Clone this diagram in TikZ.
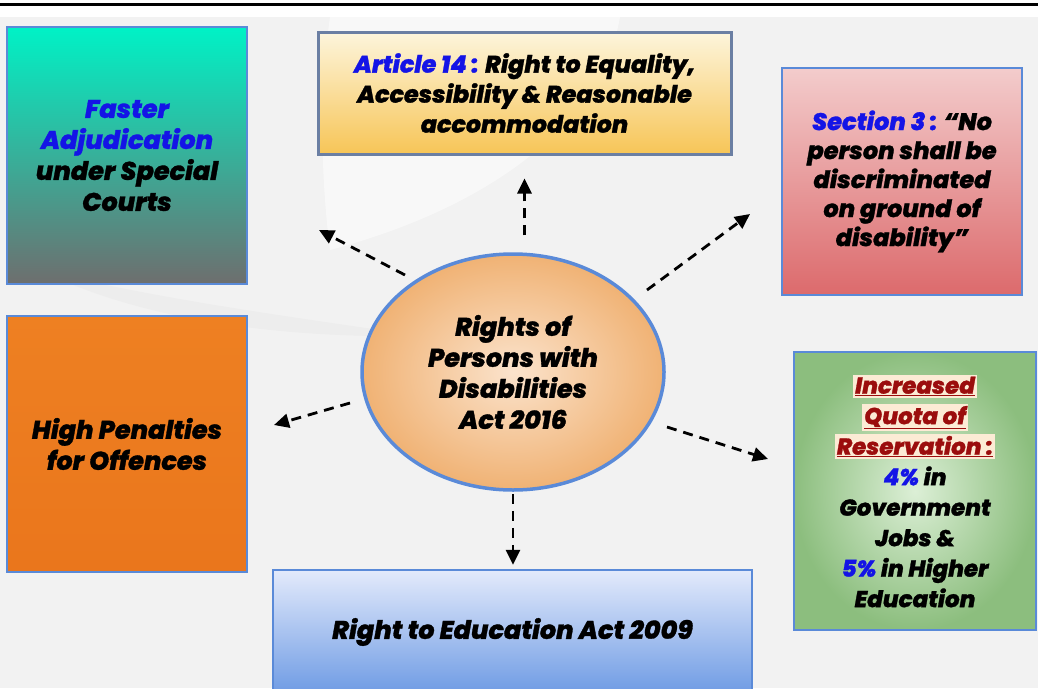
\documentclass[tikz,border=0pt]{standalone}
\usepackage{fontspec}
\setmainfont{Poppins}
\IfFontExistsTF{Poppins ExtraBold Italic}
  {\newfontfamily\pf{Poppins ExtraBold Italic}[FakeBold=1.2]}
  {\IfFontExistsTF{Poppins Bold Italic}
    {\newfontfamily\pf{Poppins Bold Italic}[FakeBold=1.5]}
    {\newfontfamily\pf{Poppins}[AutoFakeBold=2]}}
\usetikzlibrary{arrows.meta,shapes.geometric}
\definecolor{bg}{HTML}{F2F2F2}
\definecolor{bordblue}{HTML}{5A8AD8}
\definecolor{bordgray}{HTML}{6B7FA3}
\definecolor{tblue}{HTML}{1414E6}
\definecolor{tred}{HTML}{9B0D0D}
\definecolor{hl}{HTML}{FCEBD5}
\newcommand{\hlu}[1]{{\setlength{\fboxsep}{2pt}\colorbox{hl}{\underline{#1}}}}
\begin{document}
\begin{tikzpicture}[x=1pt,y=-1pt,
  box/.style={draw=bordblue, line width=2.5pt, align=center, inner sep=0pt,
    font=\pf\fontsize{25.5}{31}\selectfont},
  arr/.style={-{Triangle[length=15pt,width=14pt]}, line width=2.8pt,
    dash pattern=on 10pt off 7pt, black}]
\useasboundingbox (0,0) rectangle (1038,688);
\clip (0,0) rectangle (1038,688);
% background
\fill[white] (0,0) rectangle (1038,688);
\fill[bg] (0,17) rectangle (1038,688);
\fill[white, opacity=0.5] (330,17) -- (620,17) .. controls (600,130) and (480,210) .. (330,250)
   .. controls (320,170) and (320,90) .. (330,17) -- cycle;
\fill[black!7] (40,270) .. controls (150,325) and (300,338) .. (420,336)
   .. controls (300,318) and (160,300) .. (40,270) -- cycle;
\draw[black, line width=2.5pt] (0,4.5) -- (1038,4.5);
% boxes
\node[box, top color={rgb,255:red,0;green,242;blue,198},
  bottom color={rgb,255:red,110;green,110;blue,110},
  minimum width=240pt, minimum height=257pt] (fast) at (127,155.5)
  {\color{tblue}Faster\\\color{tblue}Adjudication\\under Special\\Courts};
\node[box, draw=bordgray, line width=3pt, top color={rgb,255:red,253;green,245;blue,220},
  bottom color={rgb,255:red,247;green,197;blue,87},
  minimum width=413pt, minimum height=122pt,
  font=\pf\fontsize{23.8}{30}\selectfont] (art) at (524.5,93)
  {{\color{tblue}Article 14 :} Right to Equality,\\Accessibility \& Reasonable\\accommodation};
\node[box, top color={rgb,255:red,243;green,204;blue,204},
  bottom color={rgb,255:red,220;green,106;blue,108},
  minimum width=240pt, minimum height=227pt,
  font=\pf\fontsize{24}{29}\selectfont] (sec) at (902,181.5)
  {{\color{tblue}Section 3 :} “No\\person shall be\\discriminated\\on ground of\\disability”};
\node[box, top color={rgb,255:red,238;green,128;blue,34},
  middle color={rgb,255:red,244;green,156;blue,72},
  bottom color={rgb,255:red,234;green,118;blue,28},
  minimum width=240pt, minimum height=256pt] (pen) at (127,444)
  {High Penalties\\for Offences};
\node[box, shading=radial, inner color={rgb,255:red,220;green,239;blue,214},
  outer color={rgb,255:red,140;green,190;blue,126},
  minimum width=242pt, minimum height=278pt,
  font=\pf\fontsize{23}{30.5}\selectfont] (quo) at (915,491)
  {\color{tred}\hlu{Increased}\\\color{tred}\hlu{Quota of}\\\color{tred}\hlu{Reservation :}\\
   {\color{tblue}4\%} in\\Government\\Jobs \&\\{\color{tblue}5\%} in Higher\\Education};
\node[box, top color={rgb,255:red,227;green,234;blue,251},
  bottom color={rgb,255:red,110;green,155;blue,228},
  minimum width=479pt, minimum height=124pt] (rte) at (512.5,632)
  {Right to Education Act 2009};
% central ellipse
\node[ellipse, draw=bordblue, line width=3.5pt, shading=radial,
  inner color={rgb,255:red,251;green,227;blue,204},
  outer color={rgb,255:red,240;green,178;blue,116},
  minimum width=302pt, minimum height=236pt, inner sep=0pt, align=center,
  font=\pf\fontsize{25.5}{31}\selectfont] (c) at (513,372)
  {Rights of\\Persons with\\Disabilities\\Act 2016};
% arrow ends
\coordinate (e1) at (319,230);
\coordinate (e2) at (750,214);
\coordinate (e3) at (274,425);
\coordinate (e4) at (768,459);
\coordinate (s1) at (405,275);
\coordinate (s2) at (647,290);
\coordinate (s3) at (350,403);
\coordinate (s4) at (667,427);
\draw[arr, shorten <=17pt, shorten >=23pt] (c.north -| art.south) -- (art.south);
\draw[arr] (s1) -- (e1);
\draw[arr] (s2) -- (e2);
\draw[arr] (s3) -- (e3);
\draw[arr] (s4) -- (e4);
\draw[arr, shorten <=2pt, shorten >=4pt] (c.south) -- (c.south |- rte.north);
\end{tikzpicture}
\end{document}
